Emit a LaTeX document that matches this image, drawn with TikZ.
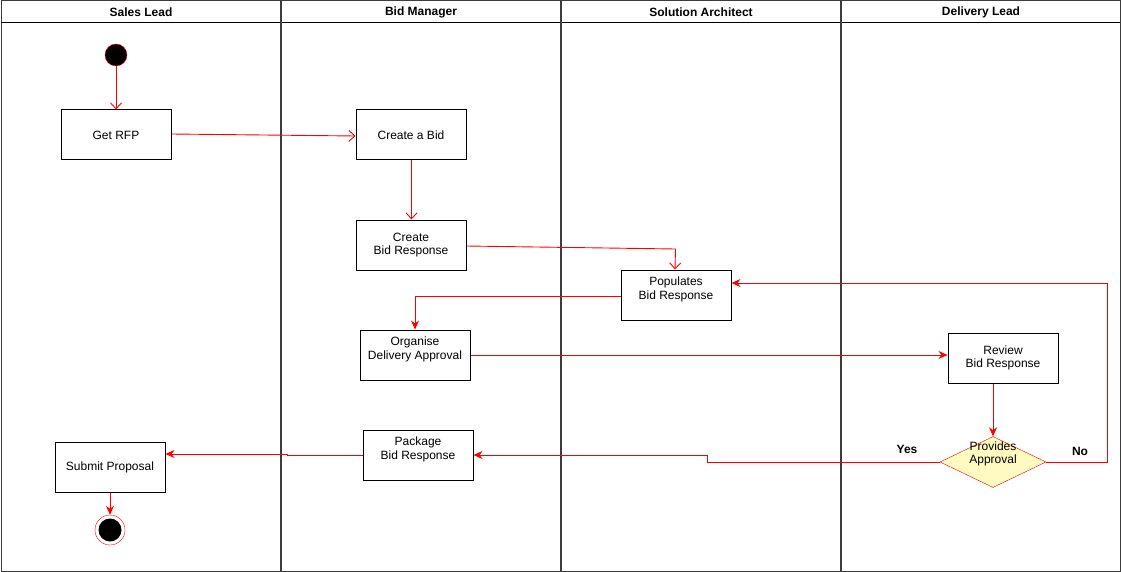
\documentclass[tikz,border=0pt]{standalone}
\usepackage{fontspec}
\setmainfont{Liberation Sans}
\usetikzlibrary{arrows.meta,shapes.geometric,calc}
\definecolor{lanegray}{RGB}{60,60,60}
\definecolor{approvalfill}{RGB}{255,250,192}
\begin{document}
\begin{tikzpicture}[x=1pt, y=-1pt, font=\fontsize{12}{13.5}\selectfont,
	act/.style={draw, line width=1pt, minimum width=110pt, minimum height=50pt, inner sep=0pt, align=center},
	openarr/.style={draw=red, line width=0.9pt, -{Straight Barb[length=6pt,width=11pt]}},
	fillarr/.style={draw=red, line width=0.9pt, -{Stealth[length=9pt,width=8pt]}}]
	\useasboundingbox (0,0) rectangle (1121,572);
	\draw[line width=1pt, lanegray](1, 1) rectangle (1120, 571);%Lanes
	\draw[line width=1pt](1, 23) -- (1120, 23);
	\foreach \x in {281, 561, 841} \draw[line width=1.2pt, lanegray](\x, 1) -- (\x, 571);
	\foreach \x/\lane in {141/Sales Lead, 421/Bid Manager, 701/Solution Architect, 981/Delivery Lead}
		\node[font=\fontsize{12}{13.5}\selectfont\bfseries] at (\x, 12) {\lane};
	% Aktionen
	\node[circle, fill=black, draw=red, minimum size=22pt, inner sep=0pt] (start) at (116, 55) {};
	\node[act] (getrfp) at (116, 135) {Get RFP};
	\node[act] (createbid) at (411, 135) {Create a Bid};
	\node[act] (createresp) at (411, 245) {Create\\Bid Response};
	\node[act] (populates) at (676, 295) {Populates\\Bid Response\\\mbox{}};
	\node[act] (organise) at (415, 355) {Organise\\Delivery Approval\\\mbox{}};
	\node[act] (review) at (1003, 358) {Review\\Bid Response};
	\node[diamond, draw=red, fill=approvalfill, minimum width=106pt, minimum height=51pt, inner sep=0pt, aspect=2.1] (approval) at (993, 462) {};
	\node[align=center] (approvaltext) at (993, 454) {Provides\\Approval};
	\node[act] (package) at (418, 455) {Package\\Bid Response\\\mbox{}};
	\node[act] (submit) at (110, 467) {Submit Proposal};
	\node[circle, draw=red, minimum size=30pt, inner sep=0pt] (finish) at (110, 530) {};
	\fill[black](finish) circle (11.5);
	% Flusslinien
	\draw[openarr](start) -- (getrfp);
	\draw[openarr]([yshift=1pt]getrfp.east) -- ([yshift=-1pt]createbid.west);
	\draw[openarr]([xshift=0.5pt]createbid.south) -- ([xshift=0.5pt]createresp.north);
	\draw[openarr]([yshift=-1pt]createresp.east) -- ++(209, 3) -- ([xshift=-1pt]populates.north);
	\draw[fillarr]([yshift=-1pt]populates.west) -| (organise.north);
	\draw[fillarr](organise.east) -- (organise.east -| review.west);
	\draw[fillarr](review.south -| approval.north) -- (approval.north);
	\draw[fillarr](approval.east) -- ++(61, 0) |- ([yshift=12pt]populates.east);
	\draw[fillarr](approval.west) -- ++(-232, 0) |- (package.east);
	\draw[fillarr](package.west) -- ++(-75, 0) |- ([yshift=13pt]submit.east);
	\draw[fillarr](submit) -- (finish);
	\node[font=\fontsize{12}{13.5}\selectfont\bfseries] (yes) at (907, 449) {Yes};
	\node[font=\fontsize{12}{13.5}\selectfont\bfseries] (no) at (1080, 451) {No};
\end{tikzpicture}
\end{document}
